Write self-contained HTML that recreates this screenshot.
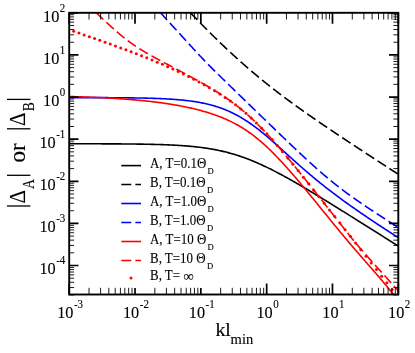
<!DOCTYPE html>
<html><head><meta charset="utf-8"><title>plot</title><style>html,body{margin:0;padding:0;background:#fff;overflow:hidden}body{width:415px;height:353px;position:relative;font-family:"Liberation Serif",serif}svg{will-change:transform;display:block;position:absolute;left:0;top:0}</style></head><body>
<svg width="415" height="353" viewBox="0 0 415 353">
<defs><clipPath id="cp"><rect x="69.20" y="12.80" width="329.10" height="281.70"/></clipPath></defs>
<rect width="415" height="353" fill="#fff"/>
<g clip-path="url(#cp)" fill="none" stroke-width="1.6" stroke-linejoin="round">
<path d="M60.00 143.75 L61.00 143.75 L62.00 143.75 L63.00 143.76 L64.00 143.76 L65.00 143.76 L66.00 143.76 L67.00 143.76 L68.00 143.76 L69.00 143.76 L70.00 143.76 L71.00 143.76 L72.00 143.76 L73.00 143.76 L74.00 143.77 L75.00 143.77 L76.00 143.77 L77.00 143.77 L78.00 143.77 L79.00 143.77 L80.00 143.77 L81.00 143.78 L82.00 143.78 L83.00 143.78 L84.00 143.78 L85.00 143.78 L86.00 143.78 L87.00 143.79 L88.00 143.79 L89.00 143.79 L90.00 143.79 L91.00 143.79 L92.00 143.80 L93.00 143.80 L94.00 143.80 L95.00 143.80 L96.00 143.81 L97.00 143.81 L98.00 143.81 L99.00 143.82 L100.00 143.82 L101.00 143.82 L102.00 143.83 L103.00 143.83 L104.00 143.83 L105.00 143.84 L106.00 143.84 L107.00 143.85 L108.00 143.85 L109.00 143.85 L110.00 143.86 L111.00 143.86 L112.00 143.87 L113.00 143.87 L114.00 143.88 L115.00 143.89 L116.00 143.89 L117.00 143.90 L118.00 143.90 L119.00 143.91 L120.00 143.92 L121.00 143.92 L122.00 143.93 L123.00 143.94 L124.00 143.95 L125.00 143.96 L126.00 143.96 L127.00 143.97 L128.00 143.98 L129.00 143.99 L130.00 144.00 L131.00 144.01 L132.00 144.02 L133.00 144.04 L134.00 144.05 L135.00 144.06 L136.00 144.07 L137.00 144.08 L138.00 144.10 L139.00 144.11 L140.00 144.13 L141.00 144.14 L142.00 144.16 L143.00 144.17 L144.00 144.19 L145.00 144.21 L146.00 144.23 L147.00 144.25 L148.00 144.27 L149.00 144.29 L150.00 144.31 L151.00 144.33 L152.00 144.35 L153.00 144.38 L154.00 144.40 L155.00 144.43 L156.00 144.45 L157.00 144.48 L158.00 144.51 L159.00 144.54 L160.00 144.57 L161.00 144.60 L162.00 144.64 L163.00 144.67 L164.00 144.71 L165.00 144.74 L166.00 144.78 L167.00 144.82 L168.00 144.86 L169.00 144.90 L170.00 144.95 L171.00 145.00 L172.00 145.04 L173.00 145.09 L174.00 145.14 L175.00 145.20 L176.00 145.25 L177.00 145.31 L178.00 145.37 L179.00 145.43 L180.00 145.49 L181.00 145.56 L182.00 145.62 L183.00 145.69 L184.00 145.76 L185.00 145.84 L186.00 145.92 L187.00 146.00 L188.00 146.08 L189.00 146.17 L190.00 146.25 L191.00 146.35 L192.00 146.44 L193.00 146.54 L194.00 146.64 L195.00 146.74 L196.00 146.85 L197.00 146.96 L198.00 147.08 L199.00 147.19 L200.00 147.32 L201.00 147.44 L202.00 147.57 L203.00 147.71 L204.00 147.84 L205.00 147.99 L206.00 148.13 L207.00 148.28 L208.00 148.44 L209.00 148.60 L210.00 148.76 L211.00 148.93 L212.00 149.10 L213.00 149.28 L214.00 149.47 L215.00 149.66 L216.00 149.85 L217.00 150.05 L218.00 150.25 L219.00 150.46 L220.00 150.68 L221.00 150.90 L222.00 151.13 L223.00 151.36 L224.00 151.60 L225.00 151.84 L226.00 152.09 L227.00 152.34 L228.00 152.61 L229.00 152.87 L230.00 153.15 L231.00 153.42 L232.00 153.71 L233.00 154.00 L234.00 154.30 L235.00 154.60 L236.00 154.91 L237.00 155.23 L238.00 155.55 L239.00 155.87 L240.00 156.21 L241.00 156.55 L242.00 156.89 L243.00 157.24 L244.00 157.60 L245.00 157.97 L246.00 158.34 L247.00 158.71 L248.00 159.09 L249.00 159.48 L250.00 159.87 L251.00 160.27 L252.00 160.68 L253.00 161.09 L254.00 161.50 L255.00 161.92 L256.00 162.35 L257.00 162.78 L258.00 163.22 L259.00 163.66 L260.00 164.11 L261.00 164.56 L262.00 165.02 L263.00 165.48 L264.00 165.95 L265.00 166.42 L266.00 166.89 L267.00 167.37 L268.00 167.86 L269.00 168.35 L270.00 168.84 L271.00 169.34 L272.00 169.84 L273.00 170.35 L274.00 170.86 L275.00 171.37 L276.00 171.89 L277.00 172.41 L278.00 172.93 L279.00 173.46 L280.00 173.99 L281.00 174.53 L282.00 175.06 L283.00 175.60 L284.00 176.15 L285.00 176.69 L286.00 177.24 L287.00 177.80 L288.00 178.35 L289.00 178.91 L290.00 179.47 L291.00 180.03 L292.00 180.60 L293.00 181.16 L294.00 181.73 L295.00 182.30 L296.00 182.88 L297.00 183.45 L298.00 184.03 L299.00 184.61 L300.00 185.19 L301.00 185.78 L302.00 186.36 L303.00 186.95 L304.00 187.54 L305.00 188.13 L306.00 188.72 L307.00 189.31 L308.00 189.90 L309.00 190.50 L310.00 191.10 L311.00 191.70 L312.00 192.30 L313.00 192.90 L314.00 193.50 L315.00 194.10 L316.00 194.71 L317.00 195.31 L318.00 195.92 L319.00 196.52 L320.00 197.13 L321.00 197.74 L322.00 198.35 L323.00 198.96 L324.00 199.57 L325.00 200.19 L326.00 200.80 L327.00 201.41 L328.00 202.03 L329.00 202.64 L330.00 203.26 L331.00 203.88 L332.00 204.49 L333.00 205.11 L334.00 205.73 L335.00 206.35 L336.00 206.97 L337.00 207.59 L338.00 208.21 L339.00 208.83 L340.00 209.45 L341.00 210.07 L342.00 210.70 L343.00 211.32 L344.00 211.94 L345.00 212.57 L346.00 213.19 L347.00 213.81 L348.00 214.44 L349.00 215.06 L350.00 215.69 L351.00 216.32 L352.00 216.94 L353.00 217.57 L354.00 218.19 L355.00 218.82 L356.00 219.45 L357.00 220.07 L358.00 220.70 L359.00 221.33 L360.00 221.96 L361.00 222.58 L362.00 223.21 L363.00 223.84 L364.00 224.47 L365.00 225.10 L366.00 225.73 L367.00 226.36 L368.00 226.99 L369.00 227.62 L370.00 228.25 L371.00 228.88 L372.00 229.51 L373.00 230.14 L374.00 230.77 L375.00 231.40 L376.00 232.03 L377.00 232.66 L378.00 233.29 L379.00 233.92 L380.00 234.55 L381.00 235.18 L382.00 235.81 L383.00 236.44 L384.00 237.07 L385.00 237.70 L386.00 238.34 L387.00 238.97 L388.00 239.60 L389.00 240.23 L390.00 240.86 L391.00 241.49 L392.00 242.12 L393.00 242.76 L394.00 243.39 L395.00 244.02 L396.00 244.65 L397.00 245.28 L398.00 245.92 L399.00 246.55 L400.00 247.18" stroke="#000"/>
<path d="M184.80 6.80 L185.30 7.33 L185.80 7.86 L186.30 8.38 L186.80 8.91 L187.30 9.44 L187.80 9.96 L188.30 10.48 L188.80 11.01 L189.30 11.53 L189.80 12.06 L190.30 12.58 L190.80 13.10 L191.30 13.62 L191.80 14.14 L192.30 14.66 L192.80 15.18 L193.30 15.70 L193.80 16.22 L194.30 16.74 L194.80 17.26 L195.30 17.77 L195.80 18.29 L196.30 18.81 L196.80 19.32 L197.30 19.84 L197.80 20.35 L198.30 20.87 L198.80 21.38 L199.30 21.89 L199.80 22.41 L200.30 22.92 L200.80 23.43 L201.30 23.94 L201.80 24.45 L202.30 24.96 L202.80 25.46 L203.30 25.97 L203.80 26.48 L204.30 26.99 L204.80 27.49 L205.30 28.00 L205.80 28.50 L206.30 29.01 L206.80 29.51 L207.30 30.01 L207.80 30.51 L208.30 31.01 L208.80 31.51 L209.30 32.01 L209.80 32.51 L210.30 33.01 L210.80 33.51 L211.30 34.00 L211.80 34.50 L212.30 35.00 L212.80 35.49 L213.30 35.98 L213.80 36.48 L214.30 36.97 L214.80 37.46 L215.30 37.95 L215.80 38.44 L216.30 38.93 L216.80 39.42 L217.30 39.91 L217.80 40.39 L218.30 40.88 L218.80 41.36 L219.30 41.85 L219.80 42.33 L220.30 42.82 L220.80 43.30 L221.30 43.78 L221.80 44.26 L222.30 44.74 L222.80 45.22 L223.30 45.69 L223.80 46.17 L224.30 46.65 L224.80 47.12 L225.30 47.60 L225.80 48.07 L226.30 48.54 L226.80 49.01 L227.30 49.49 L227.80 49.96 L228.30 50.42 L228.80 50.89 L229.30 51.36 L229.80 51.83 L230.30 52.29 L230.80 52.76 L231.30 53.22 L231.80 53.68 L232.30 54.15 L232.80 54.61 L233.30 55.07 L233.80 55.53 L234.30 55.98 L234.80 56.44 L235.30 56.90 L235.80 57.35 L236.30 57.81 L236.80 58.26 L237.30 58.71 L237.80 59.17 L238.30 59.62 L238.80 60.07 L239.30 60.52 L239.80 60.96 L240.30 61.41 L240.80 61.86 L241.30 62.30 L241.80 62.75 L242.30 63.19 L242.80 63.63 L243.30 64.07 L243.80 64.51 L244.30 64.95 L244.80 65.39 L245.30 65.83 L245.80 66.27 L246.30 66.70 L246.80 67.14 L247.30 67.57 L247.80 68.01 L248.30 68.44 L248.80 68.87 L249.30 69.30 L249.80 69.73 L250.30 70.16 L250.80 70.59 L251.30 71.01 L251.80 71.44 L252.30 71.86 L252.80 72.29 L253.30 72.71 L253.80 73.13 L254.30 73.55 L254.80 73.97 L255.30 74.39 L255.80 74.81 L256.30 75.23 L256.80 75.65 L257.30 76.06 L257.80 76.48 L258.30 76.89 L258.80 77.30 L259.30 77.72 L259.80 78.13 L260.30 78.54 L260.80 78.95 L261.30 79.36 L261.80 79.76 L262.30 80.17 L262.80 80.58 L263.30 80.98 L263.80 81.39 L264.30 81.79 L264.80 82.19 L265.30 82.59 L265.80 83.00 L266.30 83.40 L266.80 83.79 L267.30 84.19 L267.80 84.59 L268.30 84.99 L268.80 85.38 L269.30 85.78 L269.80 86.17 L270.30 86.57 L270.80 86.96 L271.30 87.35 L271.80 87.74 L272.30 88.14 L272.80 88.53 L273.30 88.91 L273.80 89.30 L274.30 89.69 L274.80 90.08 L275.30 90.46 L275.80 90.85 L276.30 91.23 L276.80 91.62 L277.30 92.00 L277.80 92.38 L278.30 92.77 L278.80 93.15 L279.30 93.53 L279.80 93.91 L280.30 94.29 L280.80 94.66 L281.30 95.04 L281.80 95.42 L282.30 95.80 L282.80 96.17 L283.30 96.55 L283.80 96.92 L284.30 97.29 L284.80 97.67 L285.30 98.04 L285.80 98.41 L286.30 98.78 L286.80 99.15 L287.30 99.52 L287.80 99.89 L288.30 100.26 L288.80 100.63 L289.30 101.00 L289.80 101.37 L290.30 101.73 L290.80 102.10 L291.30 102.46 L291.80 102.83 L292.30 103.19 L292.80 103.56 L293.30 103.92 L293.80 104.28 L294.30 104.64 L294.80 105.01 L295.30 105.37 L295.80 105.73 L296.30 106.09 L296.80 106.45 L297.30 106.81 L297.80 107.17 L298.30 107.52 L298.80 107.88 L299.30 108.24 L299.80 108.60 L300.30 108.95 L300.80 109.31 L301.30 109.66 L301.80 110.02 L302.30 110.37 L302.80 110.73 L303.30 111.08 L303.80 111.43 L304.30 111.79 L304.80 112.14 L305.30 112.49 L305.80 112.84 L306.30 113.19 L306.80 113.54 L307.30 113.89 L307.80 114.24 L308.30 114.59 L308.80 114.94 L309.30 115.29 L309.80 115.64 L310.30 115.99 L310.80 116.34 L311.30 116.68 L311.80 117.03 L312.30 117.38 L312.80 117.72 L313.30 118.07 L313.80 118.41 L314.30 118.76 L314.80 119.10 L315.30 119.45 L315.80 119.79 L316.30 120.14 L316.80 120.48 L317.30 120.82 L317.80 121.17 L318.30 121.51 L318.80 121.85 L319.30 122.19 L319.80 122.54 L320.30 122.88 L320.80 123.22 L321.30 123.56 L321.80 123.90 L322.30 124.24 L322.80 124.58 L323.30 124.92 L323.80 125.26 L324.30 125.60 L324.80 125.94 L325.30 126.28 L325.80 126.62 L326.30 126.96 L326.80 127.29 L327.30 127.63 L327.80 127.97 L328.30 128.31 L328.80 128.64 L329.30 128.98 L329.80 129.32 L330.30 129.65 L330.80 129.99 L331.30 130.33 L331.80 130.66 L332.30 131.00 L332.80 131.33 L333.30 131.67 L333.80 132.01 L334.30 132.34 L334.80 132.67 L335.30 133.01 L335.80 133.34 L336.30 133.68 L336.80 134.01 L337.30 134.35 L337.80 134.68 L338.30 135.01 L338.80 135.35 L339.30 135.68 L339.80 136.01 L340.30 136.35 L340.80 136.68 L341.30 137.01 L341.80 137.34 L342.30 137.68 L342.80 138.01 L343.30 138.34 L343.80 138.67 L344.30 139.00 L344.80 139.33 L345.30 139.67 L345.80 140.00 L346.30 140.33 L346.80 140.66 L347.30 140.99 L347.80 141.32 L348.30 141.65 L348.80 141.98 L349.30 142.31 L349.80 142.64 L350.30 142.97 L350.80 143.30 L351.30 143.63 L351.80 143.96 L352.30 144.29 L352.80 144.62 L353.30 144.95 L353.80 145.28 L354.30 145.61 L354.80 145.94 L355.30 146.26 L355.80 146.59 L356.30 146.92 L356.80 147.25 L357.30 147.58 L357.80 147.91 L358.30 148.24 L358.80 148.56 L359.30 148.89 L359.80 149.22 L360.30 149.55 L360.80 149.88 L361.30 150.20 L361.80 150.53 L362.30 150.86 L362.80 151.19 L363.30 151.51 L363.80 151.84 L364.30 152.17 L364.80 152.49 L365.30 152.82 L365.80 153.15 L366.30 153.48 L366.80 153.80 L367.30 154.13 L367.80 154.46 L368.30 154.78 L368.80 155.11 L369.30 155.44 L369.80 155.76 L370.30 156.09 L370.80 156.41 L371.30 156.74 L371.80 157.07 L372.30 157.39 L372.80 157.72 L373.30 158.04 L373.80 158.37 L374.30 158.70 L374.80 159.02 L375.30 159.35 L375.80 159.67 L376.30 160.00 L376.80 160.32 L377.30 160.65 L377.80 160.97 L378.30 161.30 L378.80 161.63 L379.30 161.95 L379.80 162.28 L380.30 162.60 L380.80 162.93 L381.30 163.25 L381.80 163.58 L382.30 163.90 L382.80 164.23 L383.30 164.55 L383.80 164.88 L384.30 165.20 L384.80 165.53 L385.30 165.85 L385.80 166.17 L386.30 166.50 L386.80 166.82 L387.30 167.15 L387.80 167.47 L388.30 167.80 L388.80 168.12 L389.30 168.45 L389.80 168.77 L390.30 169.09 L390.80 169.42 L391.30 169.74 L391.80 170.07 L392.30 170.39 L392.80 170.72 L393.30 171.04 L393.80 171.36 L394.30 171.69 L394.80 172.01 L395.30 172.34 L395.80 172.66 L396.30 172.98 L396.80 173.31 L397.30 173.63 L397.80 173.95 L398.30 174.28 L398.80 174.60 L399.30 174.93 L399.80 175.25" stroke="#000" stroke-dasharray="10.0 4.1" stroke-dashoffset="6.23"/>
<path d="M60.00 97.57 L61.00 97.57 L62.00 97.57 L63.00 97.57 L64.00 97.57 L65.00 97.57 L66.00 97.57 L67.00 97.57 L68.00 97.58 L69.00 97.58 L70.00 97.58 L71.00 97.58 L72.00 97.58 L73.00 97.58 L74.00 97.58 L75.00 97.58 L76.00 97.58 L77.00 97.59 L78.00 97.59 L79.00 97.59 L80.00 97.59 L81.00 97.59 L82.00 97.59 L83.00 97.60 L84.00 97.60 L85.00 97.60 L86.00 97.60 L87.00 97.60 L88.00 97.61 L89.00 97.61 L90.00 97.61 L91.00 97.61 L92.00 97.61 L93.00 97.62 L94.00 97.62 L95.00 97.62 L96.00 97.63 L97.00 97.63 L98.00 97.63 L99.00 97.64 L100.00 97.64 L101.00 97.64 L102.00 97.65 L103.00 97.65 L104.00 97.66 L105.00 97.66 L106.00 97.66 L107.00 97.67 L108.00 97.67 L109.00 97.68 L110.00 97.68 L111.00 97.69 L112.00 97.70 L113.00 97.70 L114.00 97.71 L115.00 97.72 L116.00 97.72 L117.00 97.73 L118.00 97.74 L119.00 97.75 L120.00 97.75 L121.00 97.76 L122.00 97.77 L123.00 97.78 L124.00 97.79 L125.00 97.80 L126.00 97.81 L127.00 97.82 L128.00 97.83 L129.00 97.84 L130.00 97.86 L131.00 97.87 L132.00 97.88 L133.00 97.90 L134.00 97.91 L135.00 97.93 L136.00 97.94 L137.00 97.96 L138.00 97.98 L139.00 97.99 L140.00 98.01 L141.00 98.03 L142.00 98.05 L143.00 98.07 L144.00 98.10 L145.00 98.12 L146.00 98.14 L147.00 98.17 L148.00 98.19 L149.00 98.22 L150.00 98.25 L151.00 98.28 L152.00 98.31 L153.00 98.34 L154.00 98.37 L155.00 98.40 L156.00 98.44 L157.00 98.47 L158.00 98.51 L159.00 98.55 L160.00 98.59 L161.00 98.64 L162.00 98.68 L163.00 98.73 L164.00 98.77 L165.00 98.82 L166.00 98.88 L167.00 98.93 L168.00 98.99 L169.00 99.05 L170.00 99.11 L171.00 99.17 L172.00 99.23 L173.00 99.30 L174.00 99.37 L175.00 99.45 L176.00 99.52 L177.00 99.60 L178.00 99.68 L179.00 99.77 L180.00 99.86 L181.00 99.95 L182.00 100.05 L183.00 100.15 L184.00 100.25 L185.00 100.35 L186.00 100.47 L187.00 100.58 L188.00 100.70 L189.00 100.82 L190.00 100.95 L191.00 101.08 L192.00 101.22 L193.00 101.36 L194.00 101.51 L195.00 101.66 L196.00 101.82 L197.00 101.99 L198.00 102.16 L199.00 102.33 L200.00 102.51 L201.00 102.70 L202.00 102.90 L203.00 103.10 L204.00 103.31 L205.00 103.52 L206.00 103.74 L207.00 103.97 L208.00 104.21 L209.00 104.46 L210.00 104.71 L211.00 104.97 L212.00 105.24 L213.00 105.52 L214.00 105.81 L215.00 106.11 L216.00 106.41 L217.00 106.73 L218.00 107.05 L219.00 107.39 L220.00 107.73 L221.00 108.08 L222.00 108.45 L223.00 108.82 L224.00 109.21 L225.00 109.60 L226.00 110.01 L227.00 110.43 L228.00 110.86 L229.00 111.30 L230.00 111.75 L231.00 112.22 L232.00 112.69 L233.00 113.18 L234.00 113.68 L235.00 114.19 L236.00 114.71 L237.00 115.24 L238.00 115.79 L239.00 116.35 L240.00 116.92 L241.00 117.50 L242.00 118.10 L243.00 118.70 L244.00 119.32 L245.00 119.95 L246.00 120.59 L247.00 121.25 L248.00 121.91 L249.00 122.59 L250.00 123.28 L251.00 123.98 L252.00 124.69 L253.00 125.41 L254.00 126.14 L255.00 126.88 L256.00 127.63 L257.00 128.40 L258.00 129.17 L259.00 129.95 L260.00 130.74 L261.00 131.54 L262.00 132.34 L263.00 133.16 L264.00 133.98 L265.00 134.81 L266.00 135.65 L267.00 136.49 L268.00 137.34 L269.00 138.20 L270.00 139.06 L271.00 139.93 L272.00 140.80 L273.00 141.67 L274.00 142.56 L275.00 143.44 L276.00 144.33 L277.00 145.22 L278.00 146.12 L279.00 147.01 L280.00 147.91 L281.00 148.81 L282.00 149.71 L283.00 150.62 L284.00 151.52 L285.00 152.43 L286.00 153.33 L287.00 154.24 L288.00 155.14 L289.00 156.04 L290.00 156.95 L291.00 157.85 L292.00 158.75 L293.00 159.65 L294.00 160.54 L295.00 161.44 L296.00 162.33 L297.00 163.22 L298.00 164.11 L299.00 164.99 L300.00 165.88 L301.00 166.76 L302.00 167.63 L303.00 168.50 L304.00 169.37 L305.00 170.24 L306.00 171.10 L307.00 171.96 L308.00 172.82 L309.00 173.67 L310.00 174.52 L311.00 175.36 L312.00 176.20 L313.00 177.03 L314.00 177.87 L315.00 178.69 L316.00 179.52 L317.00 180.34 L318.00 181.15 L319.00 181.97 L320.00 182.77 L321.00 183.58 L322.00 184.38 L323.00 185.18 L324.00 185.97 L325.00 186.76 L326.00 187.54 L327.00 188.32 L328.00 189.10 L329.00 189.88 L330.00 190.65 L331.00 191.41 L332.00 192.18 L333.00 192.94 L334.00 193.69 L335.00 194.44 L336.00 195.19 L337.00 195.94 L338.00 196.68 L339.00 197.42 L340.00 198.16 L341.00 198.90 L342.00 199.63 L343.00 200.36 L344.00 201.08 L345.00 201.80 L346.00 202.52 L347.00 203.24 L348.00 203.96 L349.00 204.67 L350.00 205.38 L351.00 206.09 L352.00 206.79 L353.00 207.49 L354.00 208.20 L355.00 208.89 L356.00 209.59 L357.00 210.28 L358.00 210.98 L359.00 211.67 L360.00 212.36 L361.00 213.04 L362.00 213.73 L363.00 214.41 L364.00 215.09 L365.00 215.77 L366.00 216.45 L367.00 217.12 L368.00 217.80 L369.00 218.47 L370.00 219.14 L371.00 219.81 L372.00 220.48 L373.00 221.15 L374.00 221.82 L375.00 222.48 L376.00 223.15 L377.00 223.81 L378.00 224.47 L379.00 225.13 L380.00 225.79 L381.00 226.45 L382.00 227.11 L383.00 227.76 L384.00 228.42 L385.00 229.07 L386.00 229.73 L387.00 230.38 L388.00 231.03 L389.00 231.68 L390.00 232.33 L391.00 232.98 L392.00 233.63 L393.00 234.28 L394.00 234.92 L395.00 235.57 L396.00 236.21 L397.00 236.86 L398.00 237.50 L399.00 238.15 L400.00 238.79" stroke="#0000ff"/>
<path d="M155.10 6.81 L155.60 7.36 L156.10 7.90 L156.60 8.45 L157.10 9.00 L157.60 9.55 L158.10 10.10 L158.60 10.65 L159.10 11.19 L159.60 11.74 L160.10 12.29 L160.60 12.84 L161.10 13.39 L161.60 13.93 L162.10 14.48 L162.60 15.03 L163.10 15.58 L163.60 16.13 L164.10 16.68 L164.60 17.22 L165.10 17.77 L165.60 18.32 L166.10 18.87 L166.60 19.42 L167.10 19.97 L167.60 20.51 L168.10 21.06 L168.60 21.61 L169.10 22.16 L169.60 22.71 L170.10 23.25 L170.60 23.80 L171.10 24.35 L171.60 24.90 L172.10 25.45 L172.60 26.00 L173.10 26.54 L173.60 27.09 L174.10 27.64 L174.60 28.19 L175.10 28.74 L175.60 29.28 L176.10 29.83 L176.60 30.38 L177.10 30.93 L177.60 31.48 L178.10 32.02 L178.60 32.57 L179.10 33.12 L179.60 33.67 L180.10 34.22 L180.60 34.76 L181.10 35.31 L181.60 35.86 L182.10 36.41 L182.60 36.95 L183.10 37.50 L183.60 38.05 L184.10 38.60 L184.60 39.14 L185.10 39.69 L185.60 40.24 L186.10 40.79 L186.60 41.33 L187.10 41.88 L187.60 42.43 L188.10 42.97 L188.60 43.52 L189.10 44.06 L189.60 44.61 L190.10 45.16 L190.60 45.70 L191.10 46.25 L191.60 46.79 L192.10 47.33 L192.60 47.88 L193.10 48.42 L193.60 48.97 L194.10 49.51 L194.60 50.05 L195.10 50.59 L195.60 51.13 L196.10 51.67 L196.60 52.21 L197.10 52.75 L197.60 53.29 L198.10 53.83 L198.60 54.37 L199.10 54.90 L199.60 55.44 L200.10 55.97 L200.60 56.50 L201.10 57.03 L201.60 57.56 L202.10 58.09 L202.60 58.62 L203.10 59.15 L203.60 59.67 L204.10 60.20 L204.60 60.72 L205.10 61.24 L205.60 61.76 L206.10 62.27 L206.60 62.79 L207.10 63.30 L207.60 63.82 L208.10 64.33 L208.60 64.84 L209.10 65.35 L209.60 65.86 L210.10 66.36 L210.60 66.87 L211.10 67.37 L211.60 67.87 L212.10 68.37 L212.60 68.87 L213.10 69.37 L213.60 69.87 L214.10 70.37 L214.60 70.86 L215.10 71.36 L215.60 71.85 L216.10 72.35 L216.60 72.84 L217.10 73.33 L217.60 73.82 L218.10 74.31 L218.60 74.80 L219.10 75.29 L219.60 75.78 L220.10 76.27 L220.60 76.76 L221.10 77.25 L221.60 77.74 L222.10 78.23 L222.60 78.71 L223.10 79.20 L223.60 79.69 L224.10 80.18 L224.60 80.66 L225.10 81.15 L225.60 81.64 L226.10 82.12 L226.60 82.61 L227.10 83.10 L227.60 83.58 L228.10 84.07 L228.60 84.55 L229.10 85.04 L229.60 85.53 L230.10 86.01 L230.60 86.50 L231.10 86.98 L231.60 87.47 L232.10 87.95 L232.60 88.44 L233.10 88.92 L233.60 89.41 L234.10 89.89 L234.60 90.38 L235.10 90.87 L235.60 91.35 L236.10 91.84 L236.60 92.32 L237.10 92.81 L237.60 93.29 L238.10 93.78 L238.60 94.26 L239.10 94.75 L239.60 95.23 L240.10 95.72 L240.60 96.20 L241.10 96.69 L241.60 97.17 L242.10 97.65 L242.60 98.14 L243.10 98.62 L243.60 99.11 L244.10 99.59 L244.60 100.08 L245.10 100.56 L245.60 101.05 L246.10 101.53 L246.60 102.02 L247.10 102.50 L247.60 102.99 L248.10 103.47 L248.60 103.96 L249.10 104.44 L249.60 104.92 L250.10 105.41 L250.60 105.89 L251.10 106.38 L251.60 106.86 L252.10 107.35 L252.60 107.83 L253.10 108.32 L253.60 108.80 L254.10 109.28 L254.60 109.77 L255.10 110.25 L255.60 110.74 L256.10 111.22 L256.60 111.70 L257.10 112.19 L257.60 112.67 L258.10 113.16 L258.60 113.64 L259.10 114.12 L259.60 114.61 L260.10 115.09 L260.60 115.58 L261.10 116.06 L261.60 116.54 L262.10 117.03 L262.60 117.51 L263.10 117.99 L263.60 118.48 L264.10 118.96 L264.60 119.44 L265.10 119.93 L265.60 120.41 L266.10 120.89 L266.60 121.38 L267.10 121.86 L267.60 122.34 L268.10 122.83 L268.60 123.31 L269.10 123.79 L269.60 124.27 L270.10 124.76 L270.60 125.24 L271.10 125.72 L271.60 126.20 L272.10 126.69 L272.60 127.17 L273.10 127.65 L273.60 128.13 L274.10 128.61 L274.60 129.10 L275.10 129.58 L275.60 130.06 L276.10 130.54 L276.60 131.02 L277.10 131.50 L277.60 131.98 L278.10 132.46 L278.60 132.95 L279.10 133.43 L279.60 133.91 L280.10 134.39 L280.60 134.87 L281.10 135.35 L281.60 135.83 L282.10 136.31 L282.60 136.79 L283.10 137.26 L283.60 137.74 L284.10 138.22 L284.60 138.70 L285.10 139.18 L285.60 139.66 L286.10 140.14 L286.60 140.61 L287.10 141.09 L287.60 141.57 L288.10 142.05 L288.60 142.52 L289.10 143.00 L289.60 143.47 L290.10 143.95 L290.60 144.43 L291.10 144.90 L291.60 145.38 L292.10 145.85 L292.60 146.33 L293.10 146.80 L293.60 147.27 L294.10 147.75 L294.60 148.22 L295.10 148.69 L295.60 149.17 L296.10 149.64 L296.60 150.11 L297.10 150.58 L297.60 151.05 L298.10 151.52 L298.60 151.99 L299.10 152.46 L299.60 152.93 L300.10 153.40 L300.60 153.87 L301.10 154.33 L301.60 154.80 L302.10 155.27 L302.60 155.73 L303.10 156.20 L303.60 156.66 L304.10 157.13 L304.60 157.59 L305.10 158.05 L305.60 158.52 L306.10 158.98 L306.60 159.44 L307.10 159.90 L307.60 160.36 L308.10 160.82 L308.60 161.28 L309.10 161.73 L309.60 162.19 L310.10 162.65 L310.60 163.10 L311.10 163.56 L311.60 164.01 L312.10 164.46 L312.60 164.91 L313.10 165.36 L313.60 165.81 L314.10 166.26 L314.60 166.71 L315.10 167.16 L315.60 167.61 L316.10 168.05 L316.60 168.50 L317.10 168.94 L317.60 169.38 L318.10 169.82 L318.60 170.26 L319.10 170.70 L319.60 171.14 L320.10 171.58 L320.60 172.01 L321.10 172.45 L321.60 172.88 L322.10 173.31 L322.60 173.74 L323.10 174.17 L323.60 174.60 L324.10 175.03 L324.60 175.46 L325.10 175.88 L325.60 176.31 L326.10 176.73 L326.60 177.15 L327.10 177.57 L327.60 177.99 L328.10 178.41 L328.60 178.82 L329.10 179.24 L329.60 179.65 L330.10 180.06 L330.60 180.47 L331.10 180.88 L331.60 181.29 L332.10 181.70 L332.60 182.10 L333.10 182.51 L333.60 182.91 L334.10 183.31 L334.60 183.71 L335.10 184.11 L335.60 184.51 L336.10 184.90 L336.60 185.30 L337.10 185.69 L337.60 186.08 L338.10 186.47 L338.60 186.86 L339.10 187.25 L339.60 187.64 L340.10 188.02 L340.60 188.40 L341.10 188.79 L341.60 189.17 L342.10 189.55 L342.60 189.93 L343.10 190.30 L343.60 190.68 L344.10 191.06 L344.60 191.43 L345.10 191.80 L345.60 192.17 L346.10 192.54 L346.60 192.91 L347.10 193.28 L347.60 193.65 L348.10 194.01 L348.60 194.38 L349.10 194.74 L349.60 195.10 L350.10 195.46 L350.60 195.82 L351.10 196.18 L351.60 196.54 L352.10 196.90 L352.60 197.25 L353.10 197.61 L353.60 197.96 L354.10 198.31 L354.60 198.67 L355.10 199.02 L355.60 199.37 L356.10 199.72 L356.60 200.07 L357.10 200.41 L357.60 200.76 L358.10 201.11 L358.60 201.45 L359.10 201.80 L359.60 202.14 L360.10 202.48 L360.60 202.83 L361.10 203.17 L361.60 203.51 L362.10 203.85 L362.60 204.19 L363.10 204.53 L363.60 204.87 L364.10 205.20 L364.60 205.54 L365.10 205.88 L365.60 206.21 L366.10 206.55 L366.60 206.89 L367.10 207.22 L367.60 207.55 L368.10 207.89 L368.60 208.22 L369.10 208.55 L369.60 208.88 L370.10 209.22 L370.60 209.55 L371.10 209.88 L371.60 210.21 L372.10 210.54 L372.60 210.87 L373.10 211.20 L373.60 211.53 L374.10 211.85 L374.60 212.18 L375.10 212.51 L375.60 212.84 L376.10 213.16 L376.60 213.49 L377.10 213.82 L377.60 214.14 L378.10 214.47 L378.60 214.79 L379.10 215.12 L379.60 215.44 L380.10 215.77 L380.60 216.09 L381.10 216.42 L381.60 216.74 L382.10 217.06 L382.60 217.39 L383.10 217.71 L383.60 218.03 L384.10 218.36 L384.60 218.68 L385.10 219.00 L385.60 219.32 L386.10 219.65 L386.60 219.97 L387.10 220.29 L387.60 220.61 L388.10 220.93 L388.60 221.25 L389.10 221.57 L389.60 221.90 L390.10 222.22 L390.60 222.54 L391.10 222.86 L391.60 223.18 L392.10 223.50 L392.60 223.82 L393.10 224.14 L393.60 224.46 L394.10 224.78 L394.60 225.10 L395.10 225.42 L395.60 225.74 L396.10 226.06 L396.60 226.38 L397.10 226.69 L397.60 227.01 L398.10 227.33 L398.60 227.65 L399.10 227.97 L399.60 228.29" stroke="#0000ff" stroke-dasharray="10.0 4.1" stroke-dashoffset="6.37"/>
<path d="M60.00 96.29 L61.00 96.32 L62.00 96.34 L63.00 96.36 L64.00 96.39 L65.00 96.41 L66.00 96.44 L67.00 96.46 L68.00 96.49 L69.00 96.52 L70.00 96.54 L71.00 96.57 L72.00 96.60 L73.00 96.63 L74.00 96.66 L75.00 96.69 L76.00 96.72 L77.00 96.75 L78.00 96.78 L79.00 96.81 L80.00 96.84 L81.00 96.88 L82.00 96.91 L83.00 96.94 L84.00 96.98 L85.00 97.01 L86.00 97.05 L87.00 97.09 L88.00 97.12 L89.00 97.16 L90.00 97.20 L91.00 97.24 L92.00 97.28 L93.00 97.32 L94.00 97.36 L95.00 97.41 L96.00 97.45 L97.00 97.49 L98.00 97.54 L99.00 97.59 L100.00 97.63 L101.00 97.68 L102.00 97.73 L103.00 97.78 L104.00 97.83 L105.00 97.88 L106.00 97.93 L107.00 97.98 L108.00 98.04 L109.00 98.09 L110.00 98.15 L111.00 98.20 L112.00 98.26 L113.00 98.32 L114.00 98.38 L115.00 98.44 L116.00 98.50 L117.00 98.57 L118.00 98.63 L119.00 98.70 L120.00 98.76 L121.00 98.83 L122.00 98.90 L123.00 98.97 L124.00 99.04 L125.00 99.11 L126.00 99.19 L127.00 99.26 L128.00 99.34 L129.00 99.42 L130.00 99.50 L131.00 99.58 L132.00 99.66 L133.00 99.74 L134.00 99.83 L135.00 99.91 L136.00 100.00 L137.00 100.09 L138.00 100.18 L139.00 100.27 L140.00 100.37 L141.00 100.47 L142.00 100.56 L143.00 100.66 L144.00 100.76 L145.00 100.87 L146.00 100.97 L147.00 101.08 L148.00 101.18 L149.00 101.29 L150.00 101.41 L151.00 101.52 L152.00 101.64 L153.00 101.75 L154.00 101.87 L155.00 102.00 L156.00 102.12 L157.00 102.25 L158.00 102.38 L159.00 102.51 L160.00 102.64 L161.00 102.77 L162.00 102.91 L163.00 103.05 L164.00 103.19 L165.00 103.34 L166.00 103.48 L167.00 103.63 L168.00 103.79 L169.00 103.94 L170.00 104.10 L171.00 104.26 L172.00 104.42 L173.00 104.59 L174.00 104.76 L175.00 104.93 L176.00 105.10 L177.00 105.28 L178.00 105.46 L179.00 105.64 L180.00 105.83 L181.00 106.02 L182.00 106.21 L183.00 106.41 L184.00 106.61 L185.00 106.81 L186.00 107.02 L187.00 107.23 L188.00 107.44 L189.00 107.66 L190.00 107.88 L191.00 108.11 L192.00 108.34 L193.00 108.57 L194.00 108.81 L195.00 109.05 L196.00 109.30 L197.00 109.55 L198.00 109.81 L199.00 110.06 L200.00 110.33 L201.00 110.60 L202.00 110.87 L203.00 111.15 L204.00 111.44 L205.00 111.73 L206.00 112.02 L207.00 112.32 L208.00 112.63 L209.00 112.94 L210.00 113.26 L211.00 113.58 L212.00 113.91 L213.00 114.25 L214.00 114.59 L215.00 114.94 L216.00 115.30 L217.00 115.66 L218.00 116.03 L219.00 116.41 L220.00 116.80 L221.00 117.19 L222.00 117.59 L223.00 118.01 L224.00 118.42 L225.00 118.85 L226.00 119.29 L227.00 119.73 L228.00 120.19 L229.00 120.65 L230.00 121.13 L231.00 121.61 L232.00 122.10 L233.00 122.61 L234.00 123.13 L235.00 123.65 L236.00 124.19 L237.00 124.74 L238.00 125.30 L239.00 125.87 L240.00 126.46 L241.00 127.05 L242.00 127.66 L243.00 128.28 L244.00 128.92 L245.00 129.56 L246.00 130.22 L247.00 130.90 L248.00 131.58 L249.00 132.28 L250.00 132.99 L251.00 133.72 L252.00 134.46 L253.00 135.21 L254.00 135.97 L255.00 136.75 L256.00 137.54 L257.00 138.35 L258.00 139.17 L259.00 140.00 L260.00 140.84 L261.00 141.70 L262.00 142.57 L263.00 143.45 L264.00 144.34 L265.00 145.25 L266.00 146.17 L267.00 147.10 L268.00 148.04 L269.00 148.99 L270.00 149.95 L271.00 150.93 L272.00 151.91 L273.00 152.91 L274.00 153.91 L275.00 154.93 L276.00 155.95 L277.00 156.99 L278.00 158.03 L279.00 159.08 L280.00 160.14 L281.00 161.21 L282.00 162.29 L283.00 163.38 L284.00 164.47 L285.00 165.57 L286.00 166.68 L287.00 167.80 L288.00 168.92 L289.00 170.05 L290.00 171.19 L291.00 172.33 L292.00 173.48 L293.00 174.63 L294.00 175.79 L295.00 176.96 L296.00 178.13 L297.00 179.30 L298.00 180.48 L299.00 181.66 L300.00 182.85 L301.00 184.04 L302.00 185.24 L303.00 186.44 L304.00 187.65 L305.00 188.85 L306.00 190.06 L307.00 191.28 L308.00 192.49 L309.00 193.71 L310.00 194.93 L311.00 196.15 L312.00 197.38 L313.00 198.60 L314.00 199.83 L315.00 201.06 L316.00 202.29 L317.00 203.52 L318.00 204.75 L319.00 205.99 L320.00 207.22 L321.00 208.45 L322.00 209.68 L323.00 210.92 L324.00 212.15 L325.00 213.38 L326.00 214.61 L327.00 215.84 L328.00 217.07 L329.00 218.30 L330.00 219.53 L331.00 220.75 L332.00 221.98 L333.00 223.20 L334.00 224.42 L335.00 225.64 L336.00 226.85 L337.00 228.07 L338.00 229.28 L339.00 230.49 L340.00 231.70 L341.00 232.90 L342.00 234.10 L343.00 235.30 L344.00 236.49 L345.00 237.69 L346.00 238.88 L347.00 240.06 L348.00 241.25 L349.00 242.43 L350.00 243.61 L351.00 244.78 L352.00 245.95 L353.00 247.12 L354.00 248.29 L355.00 249.45 L356.00 250.61 L357.00 251.77 L358.00 252.93 L359.00 254.08 L360.00 255.23 L361.00 256.38 L362.00 257.53 L363.00 258.68 L364.00 259.82 L365.00 260.97 L366.00 262.11 L367.00 263.25 L368.00 264.40 L369.00 265.54 L370.00 266.68 L371.00 267.83 L372.00 268.97 L373.00 270.12 L374.00 271.26 L375.00 272.41 L376.00 273.57 L377.00 274.72 L378.00 275.88 L379.00 277.04 L380.00 278.21 L381.00 279.38 L382.00 280.56 L383.00 281.74 L384.00 282.94 L385.00 284.13 L386.00 285.34 L387.00 286.55 L388.00 287.77 L389.00 289.00 L390.00 290.24 L391.00 291.49 L392.00 292.76 L393.00 294.03 L394.00 295.32 L395.00 296.62 L396.00 297.94 L397.00 299.26 L398.00 300.61 L399.00 301.97 L400.00 303.35" stroke="#ff0000"/>
<path d="M90.10 6.85 L90.60 7.33 L91.10 7.81 L91.60 8.29 L92.10 8.77 L92.60 9.25 L93.10 9.73 L93.60 10.21 L94.10 10.69 L94.60 11.17 L95.10 11.65 L95.60 12.13 L96.10 12.60 L96.60 13.08 L97.10 13.56 L97.60 14.04 L98.10 14.51 L98.60 14.99 L99.10 15.46 L99.60 15.94 L100.10 16.41 L100.60 16.89 L101.10 17.36 L101.60 17.83 L102.10 18.30 L102.60 18.77 L103.10 19.25 L103.60 19.71 L104.10 20.18 L104.60 20.65 L105.10 21.12 L105.60 21.59 L106.10 22.05 L106.60 22.52 L107.10 22.98 L107.60 23.44 L108.10 23.90 L108.60 24.36 L109.10 24.82 L109.60 25.28 L110.10 25.74 L110.60 26.19 L111.10 26.65 L111.60 27.10 L112.10 27.55 L112.60 28.00 L113.10 28.45 L113.60 28.90 L114.10 29.34 L114.60 29.78 L115.10 30.22 L115.60 30.66 L116.10 31.10 L116.60 31.54 L117.10 31.97 L117.60 32.40 L118.10 32.83 L118.60 33.26 L119.10 33.68 L119.60 34.10 L120.10 34.52 L120.60 34.94 L121.10 35.36 L121.60 35.77 L122.10 36.18 L122.60 36.59 L123.10 36.99 L123.60 37.39 L124.10 37.79 L124.60 38.19 L125.10 38.58 L125.60 38.98 L126.10 39.36 L126.60 39.75 L127.10 40.13 L127.60 40.51 L128.10 40.89 L128.60 41.26 L129.10 41.63 L129.60 42.00 L130.10 42.37 L130.60 42.73 L131.10 43.09 L131.60 43.44 L132.10 43.80 L132.60 44.15 L133.10 44.50 L133.60 44.84 L134.10 45.18 L134.60 45.52 L135.10 45.86 L135.60 46.19 L136.10 46.53 L136.60 46.86 L137.10 47.18 L137.60 47.51 L138.10 47.83 L138.60 48.15 L139.10 48.47 L139.60 48.78 L140.10 49.09 L140.60 49.40 L141.10 49.71 L141.60 50.02 L142.10 50.33 L142.60 50.63 L143.10 50.93 L143.60 51.23 L144.10 51.53 L144.60 51.82 L145.10 52.12 L145.60 52.41 L146.10 52.70 L146.60 52.99 L147.10 53.28 L147.60 53.57 L148.10 53.86 L148.60 54.14 L149.10 54.43 L149.60 54.71 L150.10 54.99 L150.60 55.27 L151.10 55.55 L151.60 55.83 L152.10 56.11 L152.60 56.38 L153.10 56.66 L153.60 56.94 L154.10 57.21 L154.60 57.49 L155.10 57.76 L155.60 58.03 L156.10 58.30 L156.60 58.58 L157.10 58.85 L157.60 59.12 L158.10 59.39 L158.60 59.66 L159.10 59.93 L159.60 60.19 L160.10 60.46 L160.60 60.73 L161.10 61.00 L161.60 61.27 L162.10 61.53 L162.60 61.80 L163.10 62.07 L163.60 62.33 L164.10 62.60 L164.60 62.87 L165.10 63.13 L165.60 63.40 L166.10 63.66 L166.60 63.93 L167.10 64.19 L167.60 64.46 L168.10 64.72 L168.60 64.99 L169.10 65.25 L169.60 65.52 L170.10 65.78 L170.60 66.05 L171.10 66.31 L171.60 66.58 L172.10 66.84 L172.60 67.10 L173.10 67.37 L173.60 67.63 L174.10 67.90 L174.60 68.16 L175.10 68.43 L175.60 68.69 L176.10 68.96 L176.60 69.22 L177.10 69.49 L177.60 69.75 L178.10 70.02 L178.60 70.29 L179.10 70.55 L179.60 70.82 L180.10 71.08 L180.60 71.35 L181.10 71.62 L181.60 71.88 L182.10 72.15 L182.60 72.42 L183.10 72.68 L183.60 72.95 L184.10 73.22 L184.60 73.49 L185.10 73.76 L185.60 74.02 L186.10 74.29 L186.60 74.56 L187.10 74.83 L187.60 75.10 L188.10 75.37 L188.60 75.64 L189.10 75.91 L189.60 76.18 L190.10 76.45 L190.60 76.73 L191.10 77.00 L191.60 77.27 L192.10 77.54 L192.60 77.82 L193.10 78.09 L193.60 78.36 L194.10 78.64 L194.60 78.91 L195.10 79.19 L195.60 79.46 L196.10 79.74 L196.60 80.02 L197.10 80.30 L197.60 80.57 L198.10 80.85 L198.60 81.13 L199.10 81.41 L199.60 81.69 L200.10 81.97 L200.60 82.25 L201.10 82.54 L201.60 82.82 L202.10 83.10 L202.60 83.39 L203.10 83.67 L203.60 83.96 L204.10 84.25 L204.60 84.53 L205.10 84.82 L205.60 85.11 L206.10 85.40 L206.60 85.69 L207.10 85.98 L207.60 86.27 L208.10 86.57 L208.60 86.86 L209.10 87.16 L209.60 87.45 L210.10 87.75 L210.60 88.05 L211.10 88.35 L211.60 88.65 L212.10 88.95 L212.60 89.25 L213.10 89.56 L213.60 89.86 L214.10 90.17 L214.60 90.48 L215.10 90.78 L215.60 91.09 L216.10 91.40 L216.60 91.72 L217.10 92.03 L217.60 92.35 L218.10 92.66 L218.60 92.98 L219.10 93.30 L219.60 93.62 L220.10 93.94 L220.60 94.27 L221.10 94.59 L221.60 94.92 L222.10 95.25 L222.60 95.58 L223.10 95.91 L223.60 96.24 L224.10 96.58 L224.60 96.92 L225.10 97.26 L225.60 97.60 L226.10 97.94 L226.60 98.28 L227.10 98.63 L227.60 98.98 L228.10 99.33 L228.60 99.68 L229.10 100.04 L229.60 100.39 L230.10 100.75 L230.60 101.11 L231.10 101.47 L231.60 101.84 L232.10 102.21 L232.60 102.58 L233.10 102.95 L233.60 103.32 L234.10 103.70 L234.60 104.08 L235.10 104.46 L235.60 104.84 L236.10 105.22 L236.60 105.61 L237.10 106.00 L237.60 106.40 L238.10 106.79 L238.60 107.19 L239.10 107.59 L239.60 107.99 L240.10 108.40 L240.60 108.80 L241.10 109.21 L241.60 109.63 L242.10 110.04 L242.60 110.46 L243.10 110.88 L243.60 111.31 L244.10 111.73 L244.60 112.16 L245.10 112.59 L245.60 113.03 L246.10 113.46 L246.60 113.90 L247.10 114.34 L247.60 114.79 L248.10 115.23 L248.60 115.68 L249.10 116.14 L249.60 116.59 L250.10 117.05 L250.60 117.51 L251.10 117.97 L251.60 118.44 L252.10 118.91 L252.60 119.38 L253.10 119.85 L253.60 120.33 L254.10 120.81 L254.60 121.29 L255.10 121.78 L255.60 122.26 L256.10 122.75 L256.60 123.24 L257.10 123.74 L257.60 124.23 L258.10 124.73 L258.60 125.24 L259.10 125.74 L259.60 126.25 L260.10 126.76 L260.60 127.27 L261.10 127.78 L261.60 128.30 L262.10 128.82 L262.60 129.34 L263.10 129.86 L263.60 130.39 L264.10 130.91 L264.60 131.44 L265.10 131.98 L265.60 132.51 L266.10 133.05 L266.60 133.58 L267.10 134.13 L267.60 134.67 L268.10 135.21 L268.60 135.76 L269.10 136.31 L269.60 136.86 L270.10 137.41 L270.60 137.96 L271.10 138.52 L271.60 139.08 L272.10 139.64 L272.60 140.20 L273.10 140.76 L273.60 141.32 L274.10 141.89 L274.60 142.46 L275.10 143.03 L275.60 143.60 L276.10 144.17 L276.60 144.75 L277.10 145.32 L277.60 145.90 L278.10 146.48 L278.60 147.06 L279.10 147.64 L279.60 148.22 L280.10 148.81 L280.60 149.39 L281.10 149.98 L281.60 150.57 L282.10 151.15 L282.60 151.74 L283.10 152.34 L283.60 152.93 L284.10 153.52 L284.60 154.12 L285.10 154.71 L285.60 155.31 L286.10 155.91 L286.60 156.51 L287.10 157.11 L287.60 157.71 L288.10 158.31 L288.60 158.91 L289.10 159.52 L289.60 160.12 L290.10 160.73 L290.60 161.33 L291.10 161.94 L291.60 162.55 L292.10 163.16 L292.60 163.77 L293.10 164.38 L293.60 164.99 L294.10 165.60 L294.60 166.21 L295.10 166.83 L295.60 167.44 L296.10 168.05 L296.60 168.67 L297.10 169.29 L297.60 169.90 L298.10 170.52 L298.60 171.14 L299.10 171.75 L299.60 172.37 L300.10 172.99 L300.60 173.61 L301.10 174.23 L301.60 174.85 L302.10 175.47 L302.60 176.09 L303.10 176.72 L303.60 177.34 L304.10 177.96 L304.60 178.59 L305.10 179.21 L305.60 179.83 L306.10 180.46 L306.60 181.08 L307.10 181.71 L307.60 182.33 L308.10 182.96 L308.60 183.59 L309.10 184.21 L309.60 184.84 L310.10 185.47 L310.60 186.10 L311.10 186.72 L311.60 187.35 L312.10 187.98 L312.60 188.61 L313.10 189.24 L313.60 189.87 L314.10 190.50 L314.60 191.13 L315.10 191.76 L315.60 192.39 L316.10 193.02 L316.60 193.65 L317.10 194.28 L317.60 194.91 L318.10 195.54 L318.60 196.18 L319.10 196.81 L319.60 197.44 L320.10 198.07 L320.60 198.70 L321.10 199.34 L321.60 199.97 L322.10 200.60 L322.60 201.24 L323.10 201.87 L323.60 202.50 L324.10 203.14 L324.60 203.77 L325.10 204.40 L325.60 205.04 L326.10 205.67 L326.60 206.31 L327.10 206.94 L327.60 207.58 L328.10 208.21 L328.60 208.84 L329.10 209.48 L329.60 210.11 L330.10 210.75 L330.60 211.38 L331.10 212.02 L331.60 212.66 L332.10 213.29 L332.60 213.93 L333.10 214.56 L333.60 215.20 L334.10 215.83 L334.60 216.47 L335.10 217.11 L335.60 217.74 L336.10 218.38 L336.60 219.01 L337.10 219.65 L337.60 220.29 L338.10 220.92 L338.60 221.56 L339.10 222.19 L339.60 222.83 L340.10 223.47 L340.60 224.10 L341.10 224.74 L341.60 225.37 L342.10 226.01 L342.60 226.65 L343.10 227.28 L343.60 227.92 L344.10 228.55 L344.60 229.19 L345.10 229.82 L345.60 230.46 L346.10 231.09 L346.60 231.72 L347.10 232.36 L347.60 232.99 L348.10 233.62 L348.60 234.25 L349.10 234.88 L349.60 235.51 L350.10 236.14 L350.60 236.76 L351.10 237.39 L351.60 238.01 L352.10 238.63 L352.60 239.25 L353.10 239.87 L353.60 240.48 L354.10 241.09 L354.60 241.70 L355.10 242.31 L355.60 242.92 L356.10 243.52 L356.60 244.12 L357.10 244.71 L357.60 245.30 L358.10 245.89 L358.60 246.48 L359.10 247.06 L359.60 247.64 L360.10 248.22 L360.60 248.80 L361.10 249.37 L361.60 249.95 L362.10 250.52 L362.60 251.08 L363.10 251.65 L363.60 252.22 L364.10 252.78 L364.60 253.34 L365.10 253.91 L365.60 254.47 L366.10 255.03 L366.60 255.59 L367.10 256.15 L367.60 256.70 L368.10 257.26 L368.60 257.82 L369.10 258.38 L369.60 258.93 L370.10 259.49 L370.60 260.05 L371.10 260.60 L371.60 261.16 L372.10 261.72 L372.60 262.27 L373.10 262.83 L373.60 263.38 L374.10 263.94 L374.60 264.49 L375.10 265.05 L375.60 265.60 L376.10 266.16 L376.60 266.72 L377.10 267.27 L377.60 267.83 L378.10 268.38 L378.60 268.94 L379.10 269.49 L379.60 270.05 L380.10 270.60 L380.60 271.16 L381.10 271.71 L381.60 272.27 L382.10 272.82 L382.60 273.38 L383.10 273.93 L383.60 274.49 L384.10 275.04 L384.60 275.60 L385.10 276.15 L385.60 276.71 L386.10 277.26 L386.60 277.82 L387.10 278.37 L387.60 278.93 L388.10 279.48 L388.60 280.04 L389.10 280.59 L389.60 281.15 L390.10 281.70 L390.60 282.26 L391.10 282.81 L391.60 283.37 L392.10 283.92 L392.60 284.48 L393.10 285.03 L393.60 285.59 L394.10 286.14 L394.60 286.70 L395.10 287.25 L395.60 287.81 L396.10 288.36 L396.60 288.92 L397.10 289.47 L397.60 290.03 L398.10 290.58 L398.60 291.14 L399.10 291.70 L399.60 292.25" stroke="#ff0000" stroke-dasharray="10.0 4.1" stroke-dashoffset="5.78"/>
</g>
<g clip-path="url(#cp)" fill="#ff0000">
<circle cx="73.70" cy="31.29" r="1.5"/>
<circle cx="78.92" cy="33.08" r="1.5"/>
<circle cx="84.14" cy="34.89" r="1.5"/>
<circle cx="89.36" cy="36.70" r="1.5"/>
<circle cx="94.58" cy="38.53" r="1.5"/>
<circle cx="99.80" cy="40.36" r="1.5"/>
<circle cx="105.02" cy="42.22" r="1.5"/>
<circle cx="110.24" cy="44.08" r="1.5"/>
<circle cx="115.46" cy="45.97" r="1.5"/>
<circle cx="120.68" cy="47.88" r="1.5"/>
<circle cx="125.90" cy="49.81" r="1.5"/>
<circle cx="131.12" cy="51.78" r="1.5"/>
<circle cx="136.34" cy="53.77" r="1.5"/>
<circle cx="141.56" cy="55.80" r="1.5"/>
<circle cx="146.78" cy="57.87" r="1.5"/>
<circle cx="152.00" cy="59.98" r="1.5"/>
<circle cx="157.22" cy="62.14" r="1.5"/>
<circle cx="162.44" cy="64.36" r="1.5"/>
<circle cx="167.66" cy="66.64" r="1.5"/>
<circle cx="172.88" cy="68.99" r="1.5"/>
<circle cx="178.10" cy="71.40" r="1.5"/>
<circle cx="183.32" cy="73.89" r="1.5"/>
<circle cx="188.54" cy="76.47" r="1.5"/>
<circle cx="193.76" cy="79.13" r="1.5"/>
<circle cx="198.98" cy="81.89" r="1.5"/>
<circle cx="204.20" cy="84.76" r="1.5"/>
<circle cx="209.42" cy="87.73" r="1.5"/>
<circle cx="214.64" cy="90.83" r="1.5"/>
<circle cx="219.86" cy="94.07" r="1.5"/>
<circle cx="225.08" cy="97.47" r="1.5"/>
<circle cx="230.30" cy="101.06" r="1.5"/>
<circle cx="235.52" cy="104.87" r="1.5"/>
<circle cx="240.74" cy="108.93" r="1.5"/>
<circle cx="245.96" cy="113.28" r="1.5"/>
<circle cx="251.18" cy="117.93" r="1.5"/>
<circle cx="256.40" cy="122.91" r="1.5"/>
<circle cx="261.62" cy="128.18" r="1.5"/>
<circle cx="266.84" cy="133.74" r="1.5"/>
<circle cx="272.06" cy="139.53" r="1.5"/>
<circle cx="277.28" cy="145.52" r="1.5"/>
<circle cx="282.50" cy="151.66" r="1.5"/>
<circle cx="287.72" cy="157.91" r="1.5"/>
<circle cx="292.94" cy="164.26" r="1.5"/>
<circle cx="298.16" cy="170.67" r="1.5"/>
<circle cx="303.38" cy="177.14" r="1.5"/>
<circle cx="308.60" cy="183.64" r="1.5"/>
<circle cx="313.82" cy="190.18" r="1.5"/>
<circle cx="319.04" cy="196.74" r="1.5"/>
<circle cx="324.26" cy="203.31" r="1.5"/>
<circle cx="329.48" cy="209.90" r="1.5"/>
<circle cx="334.70" cy="216.50" r="1.5"/>
<circle cx="339.92" cy="223.12" r="1.5"/>
<circle cx="345.14" cy="229.74" r="1.5"/>
<circle cx="350.36" cy="236.36" r="1.5"/>
<circle cx="355.58" cy="242.99" r="1.5"/>
<circle cx="360.80" cy="249.63" r="1.5"/>
<circle cx="366.02" cy="256.27" r="1.5"/>
<circle cx="371.24" cy="262.91" r="1.5"/>
<circle cx="376.46" cy="269.56" r="1.5"/>
<circle cx="381.68" cy="276.21" r="1.5"/>
<circle cx="386.90" cy="282.86" r="1.5"/>
<circle cx="392.12" cy="289.51" r="1.5"/>
<circle cx="397.34" cy="296.17" r="1.5"/>
</g>
<g stroke="#000">
<path d="M69.20 294.50v-11.00M69.20 12.80v11.00" stroke-width="1.7"/>
<path d="M89.01 294.50v-6.70M89.01 12.80v6.70" stroke-width="0.9"/>
<path d="M100.60 294.50v-6.70M100.60 12.80v6.70" stroke-width="0.9"/>
<path d="M108.83 294.50v-6.70M108.83 12.80v6.70" stroke-width="0.9"/>
<path d="M115.21 294.50v-6.70M115.21 12.80v6.70" stroke-width="0.9"/>
<path d="M120.42 294.50v-6.70M120.42 12.80v6.70" stroke-width="0.9"/>
<path d="M124.82 294.50v-6.70M124.82 12.80v6.70" stroke-width="0.9"/>
<path d="M128.64 294.50v-6.70M128.64 12.80v6.70" stroke-width="0.9"/>
<path d="M132.01 294.50v-6.70M132.01 12.80v6.70" stroke-width="0.9"/>
<path d="M135.02 294.50v-6.50M135.02 12.80v11.00" stroke-width="1.7"/>
<path d="M154.83 294.50v-6.70M154.83 12.80v6.70" stroke-width="0.9"/>
<path d="M166.42 294.50v-6.70M166.42 12.80v6.70" stroke-width="0.9"/>
<path d="M174.65 294.50v-6.70M174.65 12.80v6.70" stroke-width="0.9"/>
<path d="M181.03 294.50v-6.70M181.03 12.80v6.70" stroke-width="0.9"/>
<path d="M186.24 294.50v-6.70M186.24 12.80v6.70" stroke-width="0.9"/>
<path d="M190.64 294.50v-6.70M190.64 12.80v6.70" stroke-width="0.9"/>
<path d="M194.46 294.50v-6.70M194.46 12.80v6.70" stroke-width="0.9"/>
<path d="M197.83 294.50v-6.70M197.83 12.80v6.70" stroke-width="0.9"/>
<path d="M200.84 294.50v-6.50M200.84 12.80v11.00" stroke-width="1.7"/>
<path d="M220.65 294.50v-6.70M220.65 12.80v6.70" stroke-width="0.9"/>
<path d="M232.24 294.50v-6.70M232.24 12.80v6.70" stroke-width="0.9"/>
<path d="M240.47 294.50v-6.70M240.47 12.80v6.70" stroke-width="0.9"/>
<path d="M246.85 294.50v-6.70M246.85 12.80v6.70" stroke-width="0.9"/>
<path d="M252.06 294.50v-6.70M252.06 12.80v6.70" stroke-width="0.9"/>
<path d="M256.46 294.50v-6.70M256.46 12.80v6.70" stroke-width="0.9"/>
<path d="M260.28 294.50v-6.70M260.28 12.80v6.70" stroke-width="0.9"/>
<path d="M263.65 294.50v-6.70M263.65 12.80v6.70" stroke-width="0.9"/>
<path d="M266.66 294.50v-11.00M266.66 12.80v11.00" stroke-width="1.7"/>
<path d="M286.47 294.50v-6.70M286.47 12.80v6.70" stroke-width="0.9"/>
<path d="M298.06 294.50v-6.70M298.06 12.80v6.70" stroke-width="0.9"/>
<path d="M306.29 294.50v-6.70M306.29 12.80v6.70" stroke-width="0.9"/>
<path d="M312.67 294.50v-6.70M312.67 12.80v6.70" stroke-width="0.9"/>
<path d="M317.88 294.50v-6.70M317.88 12.80v6.70" stroke-width="0.9"/>
<path d="M322.28 294.50v-6.70M322.28 12.80v6.70" stroke-width="0.9"/>
<path d="M326.10 294.50v-6.70M326.10 12.80v6.70" stroke-width="0.9"/>
<path d="M329.47 294.50v-6.70M329.47 12.80v6.70" stroke-width="0.9"/>
<path d="M332.48 294.50v-11.00M332.48 12.80v11.00" stroke-width="1.7"/>
<path d="M352.29 294.50v-6.70M352.29 12.80v6.70" stroke-width="0.9"/>
<path d="M363.88 294.50v-6.70M363.88 12.80v6.70" stroke-width="0.9"/>
<path d="M372.11 294.50v-6.70M372.11 12.80v6.70" stroke-width="0.9"/>
<path d="M378.49 294.50v-6.70M378.49 12.80v6.70" stroke-width="0.9"/>
<path d="M383.70 294.50v-6.70M383.70 12.80v6.70" stroke-width="0.9"/>
<path d="M388.10 294.50v-6.70M388.10 12.80v6.70" stroke-width="0.9"/>
<path d="M391.92 294.50v-6.70M391.92 12.80v6.70" stroke-width="0.9"/>
<path d="M395.29 294.50v-6.70M395.29 12.80v6.70" stroke-width="0.9"/>
<path d="M398.30 294.50v-11.00M398.30 12.80v11.00" stroke-width="1.7"/>
<path d="M69.20 294.96h4.90M398.30 294.96h-4.90" stroke-width="0.9"/>
<path d="M69.20 287.54h4.90M398.30 287.54h-4.90" stroke-width="0.9"/>
<path d="M69.20 282.28h4.90M398.30 282.28h-4.90" stroke-width="0.9"/>
<path d="M69.20 278.20h4.90M398.30 278.20h-4.90" stroke-width="0.9"/>
<path d="M69.20 274.86h4.90M398.30 274.86h-4.90" stroke-width="0.9"/>
<path d="M69.20 272.04h4.90M398.30 272.04h-4.90" stroke-width="0.9"/>
<path d="M69.20 269.60h4.90M398.30 269.60h-4.90" stroke-width="0.9"/>
<path d="M69.20 267.45h4.90M398.30 267.45h-4.90" stroke-width="0.9"/>
<path d="M69.20 265.52h9.30M398.30 265.52h-9.30" stroke-width="1.7"/>
<path d="M69.20 252.84h4.90M398.30 252.84h-4.90" stroke-width="0.9"/>
<path d="M69.20 245.42h4.90M398.30 245.42h-4.90" stroke-width="0.9"/>
<path d="M69.20 240.16h4.90M398.30 240.16h-4.90" stroke-width="0.9"/>
<path d="M69.20 236.08h4.90M398.30 236.08h-4.90" stroke-width="0.9"/>
<path d="M69.20 232.74h4.90M398.30 232.74h-4.90" stroke-width="0.9"/>
<path d="M69.20 229.92h4.90M398.30 229.92h-4.90" stroke-width="0.9"/>
<path d="M69.20 227.48h4.90M398.30 227.48h-4.90" stroke-width="0.9"/>
<path d="M69.20 225.33h4.90M398.30 225.33h-4.90" stroke-width="0.9"/>
<path d="M69.20 223.40h9.30M398.30 223.40h-9.30" stroke-width="1.7"/>
<path d="M69.20 210.72h4.90M398.30 210.72h-4.90" stroke-width="0.9"/>
<path d="M69.20 203.30h4.90M398.30 203.30h-4.90" stroke-width="0.9"/>
<path d="M69.20 198.04h4.90M398.30 198.04h-4.90" stroke-width="0.9"/>
<path d="M69.20 193.96h4.90M398.30 193.96h-4.90" stroke-width="0.9"/>
<path d="M69.20 190.62h4.90M398.30 190.62h-4.90" stroke-width="0.9"/>
<path d="M69.20 187.80h4.90M398.30 187.80h-4.90" stroke-width="0.9"/>
<path d="M69.20 185.36h4.90M398.30 185.36h-4.90" stroke-width="0.9"/>
<path d="M69.20 183.21h4.90M398.30 183.21h-4.90" stroke-width="0.9"/>
<path d="M69.20 181.28h9.30M398.30 181.28h-9.30" stroke-width="1.7"/>
<path d="M69.20 168.60h4.90M398.30 168.60h-4.90" stroke-width="0.9"/>
<path d="M69.20 161.18h4.90M398.30 161.18h-4.90" stroke-width="0.9"/>
<path d="M69.20 155.92h4.90M398.30 155.92h-4.90" stroke-width="0.9"/>
<path d="M69.20 151.84h4.90M398.30 151.84h-4.90" stroke-width="0.9"/>
<path d="M69.20 148.50h4.90M398.30 148.50h-4.90" stroke-width="0.9"/>
<path d="M69.20 145.68h4.90M398.30 145.68h-4.90" stroke-width="0.9"/>
<path d="M69.20 143.24h4.90M398.30 143.24h-4.90" stroke-width="0.9"/>
<path d="M69.20 141.09h4.90M398.30 141.09h-4.90" stroke-width="0.9"/>
<path d="M69.20 139.16h9.30M398.30 139.16h-9.30" stroke-width="1.7"/>
<path d="M69.20 126.48h4.90M398.30 126.48h-4.90" stroke-width="0.9"/>
<path d="M69.20 119.06h4.90M398.30 119.06h-4.90" stroke-width="0.9"/>
<path d="M69.20 113.80h4.90M398.30 113.80h-4.90" stroke-width="0.9"/>
<path d="M69.20 109.72h4.90M398.30 109.72h-4.90" stroke-width="0.9"/>
<path d="M69.20 106.38h4.90M398.30 106.38h-4.90" stroke-width="0.9"/>
<path d="M69.20 103.56h4.90M398.30 103.56h-4.90" stroke-width="0.9"/>
<path d="M69.20 101.12h4.90M398.30 101.12h-4.90" stroke-width="0.9"/>
<path d="M69.20 98.97h4.90M398.30 98.97h-4.90" stroke-width="0.9"/>
<path d="M69.20 97.04h9.30M398.30 97.04h-9.30" stroke-width="1.7"/>
<path d="M69.20 84.36h4.90M398.30 84.36h-4.90" stroke-width="0.9"/>
<path d="M69.20 76.94h4.90M398.30 76.94h-4.90" stroke-width="0.9"/>
<path d="M69.20 71.68h4.90M398.30 71.68h-4.90" stroke-width="0.9"/>
<path d="M69.20 67.60h4.90M398.30 67.60h-4.90" stroke-width="0.9"/>
<path d="M69.20 64.26h4.90M398.30 64.26h-4.90" stroke-width="0.9"/>
<path d="M69.20 61.44h4.90M398.30 61.44h-4.90" stroke-width="0.9"/>
<path d="M69.20 59.00h4.90M398.30 59.00h-4.90" stroke-width="0.9"/>
<path d="M69.20 56.85h4.90M398.30 56.85h-4.90" stroke-width="0.9"/>
<path d="M69.20 54.92h9.30M398.30 54.92h-9.30" stroke-width="1.7"/>
<path d="M69.20 42.24h4.90M398.30 42.24h-4.90" stroke-width="0.9"/>
<path d="M69.20 34.82h4.90M398.30 34.82h-4.90" stroke-width="0.9"/>
<path d="M69.20 29.56h4.90M398.30 29.56h-4.90" stroke-width="0.9"/>
<path d="M69.20 25.48h4.90M398.30 25.48h-4.90" stroke-width="0.9"/>
<path d="M69.20 22.14h4.90M398.30 22.14h-4.90" stroke-width="0.9"/>
<path d="M69.20 19.32h4.90M398.30 19.32h-4.90" stroke-width="0.9"/>
<path d="M69.20 16.88h4.90M398.30 16.88h-4.90" stroke-width="0.9"/>
<path d="M69.20 14.73h4.90M398.30 14.73h-4.90" stroke-width="0.9"/>
<path d="M69.20 12.80h9.30M398.30 12.80h-9.30" stroke-width="1.7"/>
</g>
<rect x="69.20" y="12.80" width="329.10" height="281.70" fill="none" stroke="#000" stroke-width="1.9"/>
<path d="M121.3 165.60h19.7" stroke="#000" stroke-width="1.6"/>
<g transform="translate(150.0,167.70) scale(0.925,1)"><text font-family="Liberation Serif, serif" stroke="#000" stroke-width="0.12" font-size="14" fill="#000">A, T=0.1Θ</text></g>
<text x="207.60" y="173.60" font-family="Liberation Serif, serif" stroke="#000" stroke-width="0.12" font-size="8.6" fill="#000">D</text>
<path d="M121.3 184.55h19.7" stroke="#000" stroke-width="1.6" stroke-dasharray="10.0 4.1"/>
<g transform="translate(150.0,186.65) scale(0.925,1)"><text font-family="Liberation Serif, serif" stroke="#000" stroke-width="0.12" font-size="14" fill="#000">B, T=0.1Θ</text></g>
<text x="207.00" y="192.55" font-family="Liberation Serif, serif" stroke="#000" stroke-width="0.12" font-size="8.6" fill="#000">D</text>
<path d="M121.3 203.50h19.7" stroke="#00f" stroke-width="1.6"/>
<g transform="translate(150.0,205.60) scale(0.925,1)"><text font-family="Liberation Serif, serif" stroke="#000" stroke-width="0.12" font-size="14" fill="#000">A, T=1.0Θ</text></g>
<text x="207.60" y="211.50" font-family="Liberation Serif, serif" stroke="#000" stroke-width="0.12" font-size="8.6" fill="#000">D</text>
<path d="M121.3 222.50h19.7" stroke="#00f" stroke-width="1.6" stroke-dasharray="10.0 4.1"/>
<g transform="translate(150.0,224.60) scale(0.925,1)"><text font-family="Liberation Serif, serif" stroke="#000" stroke-width="0.12" font-size="14" fill="#000">B, T=1.0Θ</text></g>
<text x="207.00" y="230.50" font-family="Liberation Serif, serif" stroke="#000" stroke-width="0.12" font-size="8.6" fill="#000">D</text>
<path d="M121.3 241.50h19.7" stroke="#f00" stroke-width="1.6"/>
<g transform="translate(150.0,243.60) scale(0.925,1)"><text font-family="Liberation Serif, serif" stroke="#000" stroke-width="0.12" font-size="14" fill="#000">A, T=10 Θ</text></g>
<text x="207.60" y="249.50" font-family="Liberation Serif, serif" stroke="#000" stroke-width="0.12" font-size="8.6" fill="#000">D</text>
<path d="M121.3 260.50h19.7" stroke="#f00" stroke-width="1.6" stroke-dasharray="10.0 4.1"/>
<g transform="translate(150.0,262.60) scale(0.925,1)"><text font-family="Liberation Serif, serif" stroke="#000" stroke-width="0.12" font-size="14" fill="#000">B, T=10 Θ</text></g>
<text x="207.00" y="268.50" font-family="Liberation Serif, serif" stroke="#000" stroke-width="0.12" font-size="8.6" fill="#000">D</text>
<circle cx="131" cy="277.90" r="1.5" fill="#f00"/>
<g transform="translate(150.0,280.00) scale(0.925,1)"><text font-family="Liberation Serif, serif" stroke="#000" stroke-width="0.12" font-size="14" fill="#000">B, T=</text></g>
<text x="183.6" y="280.50" font-family="Liberation Serif, serif" stroke="#000" stroke-width="0.12" font-size="14.5" fill="#000">∞</text>
<g transform="translate(39.41,274.42) scale(0.94,1)"><text font-family="Liberation Serif, serif" stroke="#000" stroke-width="0.12" font-size="17.3" fill="#000">10</text></g>
<g transform="translate(56.17,264.22) scale(0.87,1)"><text font-family="Liberation Serif, serif" stroke="#000" stroke-width="0.12" font-size="12.6" fill="#000">-4</text></g>
<g transform="translate(39.41,232.30) scale(0.94,1)"><text font-family="Liberation Serif, serif" stroke="#000" stroke-width="0.12" font-size="17.3" fill="#000">10</text></g>
<g transform="translate(56.17,222.10) scale(0.87,1)"><text font-family="Liberation Serif, serif" stroke="#000" stroke-width="0.12" font-size="12.6" fill="#000">-3</text></g>
<g transform="translate(39.41,190.18) scale(0.94,1)"><text font-family="Liberation Serif, serif" stroke="#000" stroke-width="0.12" font-size="17.3" fill="#000">10</text></g>
<g transform="translate(56.17,179.98) scale(0.87,1)"><text font-family="Liberation Serif, serif" stroke="#000" stroke-width="0.12" font-size="12.6" fill="#000">-2</text></g>
<g transform="translate(39.41,148.06) scale(0.94,1)"><text font-family="Liberation Serif, serif" stroke="#000" stroke-width="0.12" font-size="17.3" fill="#000">10</text></g>
<g transform="translate(56.17,137.86) scale(0.87,1)"><text font-family="Liberation Serif, serif" stroke="#000" stroke-width="0.12" font-size="12.6" fill="#000">-1</text></g>
<g transform="translate(43.06,105.94) scale(0.94,1)"><text font-family="Liberation Serif, serif" stroke="#000" stroke-width="0.12" font-size="17.3" fill="#000">10</text></g>
<g transform="translate(59.82,95.74) scale(0.87,1)"><text font-family="Liberation Serif, serif" stroke="#000" stroke-width="0.12" font-size="12.6" fill="#000">0</text></g>
<g transform="translate(43.06,63.82) scale(0.94,1)"><text font-family="Liberation Serif, serif" stroke="#000" stroke-width="0.12" font-size="17.3" fill="#000">10</text></g>
<g transform="translate(59.82,53.62) scale(0.87,1)"><text font-family="Liberation Serif, serif" stroke="#000" stroke-width="0.12" font-size="12.6" fill="#000">1</text></g>
<g transform="translate(43.06,21.70) scale(0.94,1)"><text font-family="Liberation Serif, serif" stroke="#000" stroke-width="0.12" font-size="17.3" fill="#000">10</text></g>
<g transform="translate(59.82,11.50) scale(0.87,1)"><text font-family="Liberation Serif, serif" stroke="#000" stroke-width="0.12" font-size="12.6" fill="#000">2</text></g>
<g transform="translate(57.15,318.00) scale(0.94,1)"><text font-family="Liberation Serif, serif" stroke="#000" stroke-width="0.12" font-size="17.3" fill="#000">10</text></g>
<g transform="translate(73.92,307.80) scale(0.87,1)"><text font-family="Liberation Serif, serif" stroke="#000" stroke-width="0.12" font-size="12.6" fill="#000">-3</text></g>
<g transform="translate(122.97,318.00) scale(0.94,1)"><text font-family="Liberation Serif, serif" stroke="#000" stroke-width="0.12" font-size="17.3" fill="#000">10</text></g>
<g transform="translate(139.74,307.80) scale(0.87,1)"><text font-family="Liberation Serif, serif" stroke="#000" stroke-width="0.12" font-size="12.6" fill="#000">-2</text></g>
<g transform="translate(188.79,318.00) scale(0.94,1)"><text font-family="Liberation Serif, serif" stroke="#000" stroke-width="0.12" font-size="17.3" fill="#000">10</text></g>
<g transform="translate(205.56,307.80) scale(0.87,1)"><text font-family="Liberation Serif, serif" stroke="#000" stroke-width="0.12" font-size="12.6" fill="#000">-1</text></g>
<g transform="translate(256.44,318.00) scale(0.94,1)"><text font-family="Liberation Serif, serif" stroke="#000" stroke-width="0.12" font-size="17.3" fill="#000">10</text></g>
<g transform="translate(273.20,307.80) scale(0.87,1)"><text font-family="Liberation Serif, serif" stroke="#000" stroke-width="0.12" font-size="12.6" fill="#000">0</text></g>
<g transform="translate(322.26,318.00) scale(0.94,1)"><text font-family="Liberation Serif, serif" stroke="#000" stroke-width="0.12" font-size="17.3" fill="#000">10</text></g>
<g transform="translate(339.02,307.80) scale(0.87,1)"><text font-family="Liberation Serif, serif" stroke="#000" stroke-width="0.12" font-size="12.6" fill="#000">1</text></g>
<g transform="translate(388.08,318.00) scale(0.94,1)"><text font-family="Liberation Serif, serif" stroke="#000" stroke-width="0.12" font-size="17.3" fill="#000">10</text></g>
<g transform="translate(404.84,307.80) scale(0.87,1)"><text font-family="Liberation Serif, serif" stroke="#000" stroke-width="0.12" font-size="12.6" fill="#000">2</text></g>
<text x="215.4" y="335.9" font-family="Liberation Serif, serif" stroke="#000" stroke-width="0.12" font-size="19.8" fill="#000">kl</text>
<g transform="translate(230.6,343.7) scale(0.97,1)"><text font-family="Liberation Serif, serif" stroke="#000" stroke-width="0.12" font-size="15" fill="#000">min</text></g>
<g transform="translate(24.9,206) rotate(-90)">
<path d="M0.00 -17.9V5.5" stroke="#000" stroke-width="1.3"/>
<path d="M30.70 -17.9V5.5" stroke="#000" stroke-width="1.3"/>
<path d="M77.20 -17.9V5.5" stroke="#000" stroke-width="1.3"/>
<path d="M106.60 -17.9V5.5" stroke="#000" stroke-width="1.3"/>
<g transform="translate(2.60,0.00) scale(0.88,1)"><text font-family="Liberation Serif, serif" stroke="#000" stroke-width="0.12" font-size="24" fill="#000">Δ</text></g>
<g transform="translate(80.00,0.00) scale(0.88,1)"><text font-family="Liberation Serif, serif" stroke="#000" stroke-width="0.12" font-size="24" fill="#000">Δ</text></g>
<g transform="translate(16.90,9.10) scale(0.85,1)"><text font-family="Liberation Serif, serif" stroke="#000" stroke-width="0.12" font-size="16.2" fill="#000">A</text></g>
<g transform="translate(94.80,8.80) scale(0.85,1)"><text font-family="Liberation Serif, serif" stroke="#000" stroke-width="0.12" font-size="16.2" fill="#000">B</text></g>
<g transform="translate(43.60,0.00) scale(0.96,1)"><text font-family="Liberation Serif, serif" stroke="#000" stroke-width="0.12" font-size="24" fill="#000">or</text></g>
</g>
</svg>
</body></html>
